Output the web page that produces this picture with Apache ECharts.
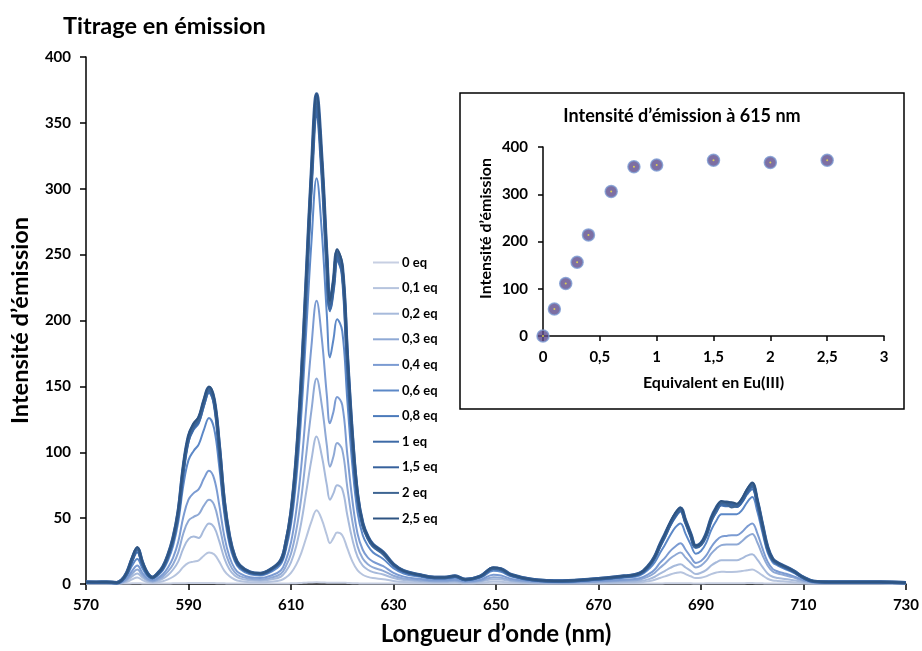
<!DOCTYPE html>
<html>
<head>
<meta charset="utf-8">
<script src="https://cdn.jsdelivr.net/npm/echarts@6/dist/echarts.min.js"></script>
<style>
html,body{margin:0;padding:0;background:#fff;}
#chart{width:922px;height:651px;}
</style>
</head>
<body>
<div id="chart"></div>
<script>
// Wavelength grid (nm)
const wavelengths = [570,572,574,576,
577,578,579,580,581,582,583,584,585,586,587,588,589,590,591,592,593,594,595,596,597,598,599,600,
602,604,606,608,
609,610,611,612,613,614,615,616,617,
617.6,618.3,
619,620,621,622,623,624,625,626,
628,630,632,635,638,640,642,644,647,649.5,651,653,657,663,670,675,678,
680,681,682,683,684,685,686,687,688,689,690,691,692,693,694,695,696,697,698,699,700,701,702,703,704,705,706,
708,710,712,715,720,725,730];

const seriesNames = ['0 eq','0,1 eq','0,2 eq','0,3 eq','0,4 eq','0,6 eq','0,8 eq','1 eq','1,5 eq','2 eq','2,5 eq'];

const eq0 = [0.4,0.3,0.4,0.3,
0.3,0.4,0.5,0.6,0.4,0.3,0.3,0.3,0.4,0.4,0.5,0.5,0.6,0.7,0.7,0.7,0.8,0.8,0.7,0.6,0.5,0.4,0.4,0.3,
0.3,0.3,0.3,0.4,
0.4,0.5,0.6,0.8,1,1.2,1.3,1.2,1,
0.9,1,
1,1,0.8,0.6,0.5,0.4,0.4,0.3,
0.3,0.3,0.3,0.3,0.3,0.3,0.3,0.3,0.3,0.4,0.4,0.3,0.3,0.3,0.3,0.3,0.3,
0.3,0.4,0.4,0.5,0.5,0.6,0.6,0.5,0.5,0.4,0.4,0.5,0.5,0.6,0.6,0.6,0.6,0.6,0.6,0.7,0.7,0.6,0.5,0.4,0.4,0.3,0.3,
0.3,0.3,0.3,0.3,0.3,0.3,0.3];

const eq01 = [0.3,0.3,0.3,0.2,
0.5,1.6,3.6,5,3,1.4,0.9,1.3,2.1,3.5,5.5,8.5,13,16,17,18,21.5,24,22.5,17,10,5.8,3.4,2.2,
1.4,1.3,1.7,2.8,
4.9,8.5,14.5,23.5,35.5,47.5,56,49,37,
31,35,
39,37,27,17,10.3,7,5.4,4.5,
3.6,2.3,1.5,1.1,0.8,0.8,0.9,0.5,0.9,1.9,1.7,1.1,0.5,0.3,0.6,0.9,1.2,
2.3,3.2,4.6,5.8,7.2,8.3,9,7.5,5.9,4.5,4.8,5.8,7.5,8.7,9.3,9.2,9.2,9.3,9.8,10.5,11,9.2,6.5,4,2.7,2.3,2,
1.4,0.7,0.3,0.3,0.3,0.3,0.2];

const eq02 = [0.5,0.5,0.5,0.3,
0.9,2.6,5.8,8,5,2.4,1.6,2.5,4,6.8,11,17,27,34,36,35,41,46,43,32.5,19.5,11,6.5,4.3,
2.8,2.5,3.4,5.5,
9.6,16.5,28.5,46.5,70.5,94.5,112,97.5,75,
64,69,
75,72,52,33.5,20.5,14,10.8,9,
7.2,4.5,3,2.1,1.5,1.5,1.8,1,1.8,3.7,3.4,2.1,1,0.7,1.2,1.6,2.1,
3.9,5.5,7.8,10,12.2,14,15,12.5,10,7.5,8.5,10.5,14,16.5,18,18,18,18,19.5,21.5,22.5,18.5,13,8,5.5,4.6,4,
2.9,1.5,0.6,0.5,0.5,0.5,0.3];

const eq03 = [0.7,0.7,0.7,0.5,
1.2,3.5,7.8,11,6.6,3.1,2.1,3.4,5.6,9.5,15,24,38.5,48,51,53,59.5,64,60,45,27,15.5,9,6,
3.9,3.4,4.7,7.7,
13.5,23,40,65,99,132,156,136,105,
89,97,
107,102,73,47,28.5,19.3,15,12.6,
10,6.3,4.2,2.9,2.1,2.1,2.5,1.5,2.5,5.2,4.8,2.9,1.5,1,1.7,2.5,3.3,
6.2,8.6,12.3,15.6,19.3,22,24,20,16,12.5,14,17.5,23,27,29.5,30,30,30,32.5,36,38,31.5,22,14,9.5,8,7,
5,2.5,1,0.7,0.7,0.7,0.5];

const eq04 = [0.9,0.9,0.9,0.6,
1.5,4.5,10,14,8.5,4.2,2.8,4.5,7.4,12.5,20,32,51,64,69,72,80,86,80,60,36,20.5,12,8,
5.1,4.6,6.3,10.3,
18,31.5,55,89,135,181,215,187,143,
122,131,
142,136,98,63,38,26,20,17,
13.5,8.5,5.6,3.9,2.8,2.8,3.3,2,3.3,7,6.4,3.9,2,1.3,2.2,3.3,4.4,
8,11,16,20,25,28.5,31,26,20.5,16,17.5,21.5,28,33,36,36.5,37,37,39.5,43.5,46,38.5,27,17,11.5,9.5,8.4,
6,3,1.2,0.9,0.9,0.9,0.6];

const eq06 = [1.2,1.2,1.2,0.8,
2.2,6.5,14,19,12,6,4,6.5,10.5,18,29,47,75,94,101,106,117,126,118,89,53,30,17.5,11.5,
7.3,6.5,9,15,
26,45,78,128,194,260,308,268,204,
172,186,
201,192,139,89,54,37,29,24,
19,12,8,5.6,4,4,4.8,2.8,4.8,10,9.2,5.6,2.8,1.8,3.2,4.8,6.4,
12,16.5,23.5,30,37,43,46,38,30,23,25,31,41,48,53,53,53,53,56,62,66,55,39,24,16.5,14,12,
8.6,4.3,1.7,1.2,1.2,1.2,0.8];

const eq08 = [1.4,1.4,1.4,1,
2.8,8,17,24,14.5,7.5,4.8,7.7,12.5,21,33,53,85,108,117,122,135,145,136,102,60,34.5,20,13.5,
8.6,7.7,10.5,17,
30,52,90,148,224,302,358,313,240,
207,223,
245,234,168,107,65,44,34.5,28.5,
23,14.5,9.6,6.7,4.8,4.8,5.7,3.3,5.7,11.8,10.9,6.7,3.3,2.2,3.8,5.7,7.6,
14,19.5,28,35.5,44,50.5,55,46,36,27.5,29.5,36,47.5,54.5,59.5,59,59,58.5,62,68,72,61,43,26.5,18,15,13.2,
9.5,4.8,1.9,1.4,1.4,1.4,1];

const eq1 = [1.4,1.4,1.4,1,
3,8.5,19,27,16,8,5,8,12.5,21.5,34,54,87,110,119,124,137,147,138,104,61,35,20.5,13.5,
8.8,7.8,10.8,17.5,
31,53,92,151,228,307,362,316,243,
209,226,
248,237,170,109,66,45,35,29,
23,14.5,9.8,6.8,5,5,5.8,3.4,5.8,12,11,6.8,3.4,2.2,3.9,5.8,7.8,
14.5,20.5,29,37,45.5,52,56,47,37,28,30,37,48.5,56,61,60,60,59,63,70,74,62,44,27,18.5,15.5,13.5,
9.8,4.9,2,1.5,1.5,1.5,1];

const eq15 = [1.5,1.4,1.5,1,
3,9,19,27,16.5,8,5,8,13,22,35,55,89,112,121,126,139,149,140,105,62,36,21,14,
9,8,11,18,
31,54,94,154,233,313,372,323,248,
213,230,
252,241,173,111,67,46,36,30,
24,15,10,7,5,5,6,3.5,6,12,11.5,7,3.5,2.3,4,6,8,
15,21,30,38,46,53,57.5,48,38,29,31,38,50,58,62,62,61,60,64,71,76,63,45,28,19,16,14,
10,5,2,1.5,1.5,1.5,1];

const eq2 = [1.4,1.5,1.4,1,
3,8.5,19,27,16.5,8,5,8,13,22,34,55,88,111,120,125,138,148,139,104,62,35,21,14,
9,8,11,18,
31,54,93,152,231,310,367,321,246,
212,229,
251,240,172,110,67,45,35,29,
23,15,10,7,5,5,6,3.5,6,12,11,7,3.5,2.3,4,6,8,
15,21,29,37,46,53,57,47,37,28,30,37,49,57,62,61,58,60,64,71,75.5,63,44,27,18.5,15.5,13.5,
10,5,2,1.5,1.5,1.5,1];

const eq25 = [1.5,1.5,1.5,1,
3,9,20,28,17,8,5,8,13,22,35,56,90,113,122,127,140,150,141,106,63,36,21,14,
9,8,11,18,
32,55,95,155,235,315,372,325,250,
215,232,
254,243,175,112,68,46,36,30,
24,15,10,7,5,5,6,3.5,6,12.5,11.5,7,3.5,2.3,4,6,8,
15,21,30,38,47,54,58,48,38,29,31,38,50,58,63,62,62,61,65,72,77,64,45,28,19,16,14,
10,5,2,1.5,1.5,1.5,1];

const spectra = [eq0, eq01, eq02, eq03, eq04, eq06, eq08, eq1, eq15, eq2, eq25];

// Inset: intensity at 615 nm vs equivalents
const insetEq = [0, 0.1, 0.2, 0.3, 0.4, 0.6, 0.8, 1, 1.5, 2, 2.5];
const insetIntensity = [0, 57, 111, 156, 214, 306, 358, 362, 372, 367, 372];

const colors = ['#c7cfe2','#b6c4de','#a7badb','#8fa9d5','#7b9bd2','#5c88c7','#4b7aba','#3d6aa6','#36619c','#3e6592','#2e5482'];
const widths = [2,2,2,2,2,2,2,3.5,3.5,2,2];

const FONT = 'Lato';
const chart = echarts.init(document.getElementById('chart'), null, {renderer:'canvas'});

const lineSeries = seriesNames.map((name, k) => ({
  name: name,
  type: 'line',
  xAxisIndex: 0, yAxisIndex: 0,
  data: wavelengths.map((w, i) => [w, spectra[k][i]]),
  showSymbol: false,
  symbol: 'none',
  smooth: 0.4,
  lineStyle: {color: colors[k], width: widths[k]},
  itemStyle: {color: colors[k]},
  z: 2 + k
}));

const blackAxis = {lineStyle:{color:'#000', width:1.5}};
const boldLbl = (size) => ({color:'#000', fontWeight:'bold', fontSize:size, fontFamily:FONT});

const option = {
  animation: false,
  backgroundColor: '#fff',
  textStyle: {fontFamily: FONT},
  title: [
    {text:'Titrage en émission', left:63, top:14, padding:0,
     textStyle:{fontSize:23.5, fontWeight:'bold', color:'#000', fontFamily:FONT}},
    {text:'Intensité d’émission à 615 nm', left:682, top:107, padding:0, textAlign:'center',
     textStyle:{fontSize:18, fontWeight:'bold', color:'#000', fontFamily:FONT}}
  ],
  legend: {
    orient:'vertical', left:372, top:256, padding:0,
    itemWidth:26, itemHeight:14, itemGap:12.6,
    itemStyle:{opacity:0, borderWidth:0},
    data: seriesNames,
    textStyle: Object.assign({padding:[0,0,0,-2]}, boldLbl(13))
  },
  grid: [
    {left:86, right:14, top:57, bottom:64},
    {left:543, right:38, top:147, bottom:315}
  ],
  xAxis: [
    {type:'value', gridIndex:0, min:570, max:730, interval:20,
     axisLine:blackAxis, axisTick:{show:true, length:6, lineStyle:{color:'#000', width:1.5}},
     axisLabel:Object.assign({margin:14}, boldLbl(15)),
     splitLine:{show:false},
     name:'Longueur d’onde (nm)', nameLocation:'middle', nameGap:38,
     nameTextStyle:boldLbl(24)},
    {type:'value', gridIndex:1, min:0, max:3, interval:0.5,
     axisLine:blackAxis, axisTick:{show:true, length:5, lineStyle:{color:'#000', width:1.5}},
     axisLabel:Object.assign({margin:14, formatter:v => String(v).replace('.', ',')}, boldLbl(15)),
     splitLine:{show:false},
     name:'Equivalent en Eu(III)', nameLocation:'middle', nameGap:39,
     nameTextStyle:boldLbl(16)}
  ],
  yAxis: [
    {type:'value', gridIndex:0, min:0, max:400, interval:50,
     axisLine:Object.assign({show:true}, blackAxis), axisTick:{show:true, length:6, lineStyle:{color:'#000', width:1.5}},
     axisLabel:Object.assign({margin:15}, boldLbl(15)),
     splitLine:{show:false},
     name:'Intensité d’émission', nameLocation:'middle', nameGap:54,
     nameTextStyle:boldLbl(23.5)},
    {type:'value', gridIndex:1, min:0, max:400, interval:100,
     axisLine:Object.assign({show:true}, blackAxis), axisTick:{show:true, length:5, lineStyle:{color:'#000', width:1.5}},
     axisLabel:Object.assign({margin:15}, boldLbl(15)),
     splitLine:{show:false},
     name:'Intensité d’émission', nameLocation:'middle', nameGap:49,
     nameTextStyle:Object.assign({padding:[0,0,0,26]}, boldLbl(16))}
  ],
  graphic: [
    {type:'rect', shape:{x:460, y:93, width:444, height:316},
     style:{fill:'none', stroke:'#000', lineWidth:1.5}, z:1}
  ],
  series: lineSeries.concat([
    {name:'Intensité 615', type:'scatter', xAxisIndex:1, yAxisIndex:1,
     data: insetEq.map((x,i)=>[x, insetIntensity[i]]),
     symbol:'circle', symbolSize:12,
     itemStyle:{color:'#5d4b8c', borderColor:'#7a9ad2', borderWidth:1.5}, z:20},
    {name:'centre', type:'scatter', xAxisIndex:1, yAxisIndex:1,
     data: insetEq.map((x,i)=>[x, insetIntensity[i]]),
     symbol:'circle', symbolSize:2, silent:true,
     itemStyle:{color:'#f2e640'}, z:21}
  ])
};
chart.setOption(option);
</script>
</body>
</html>
